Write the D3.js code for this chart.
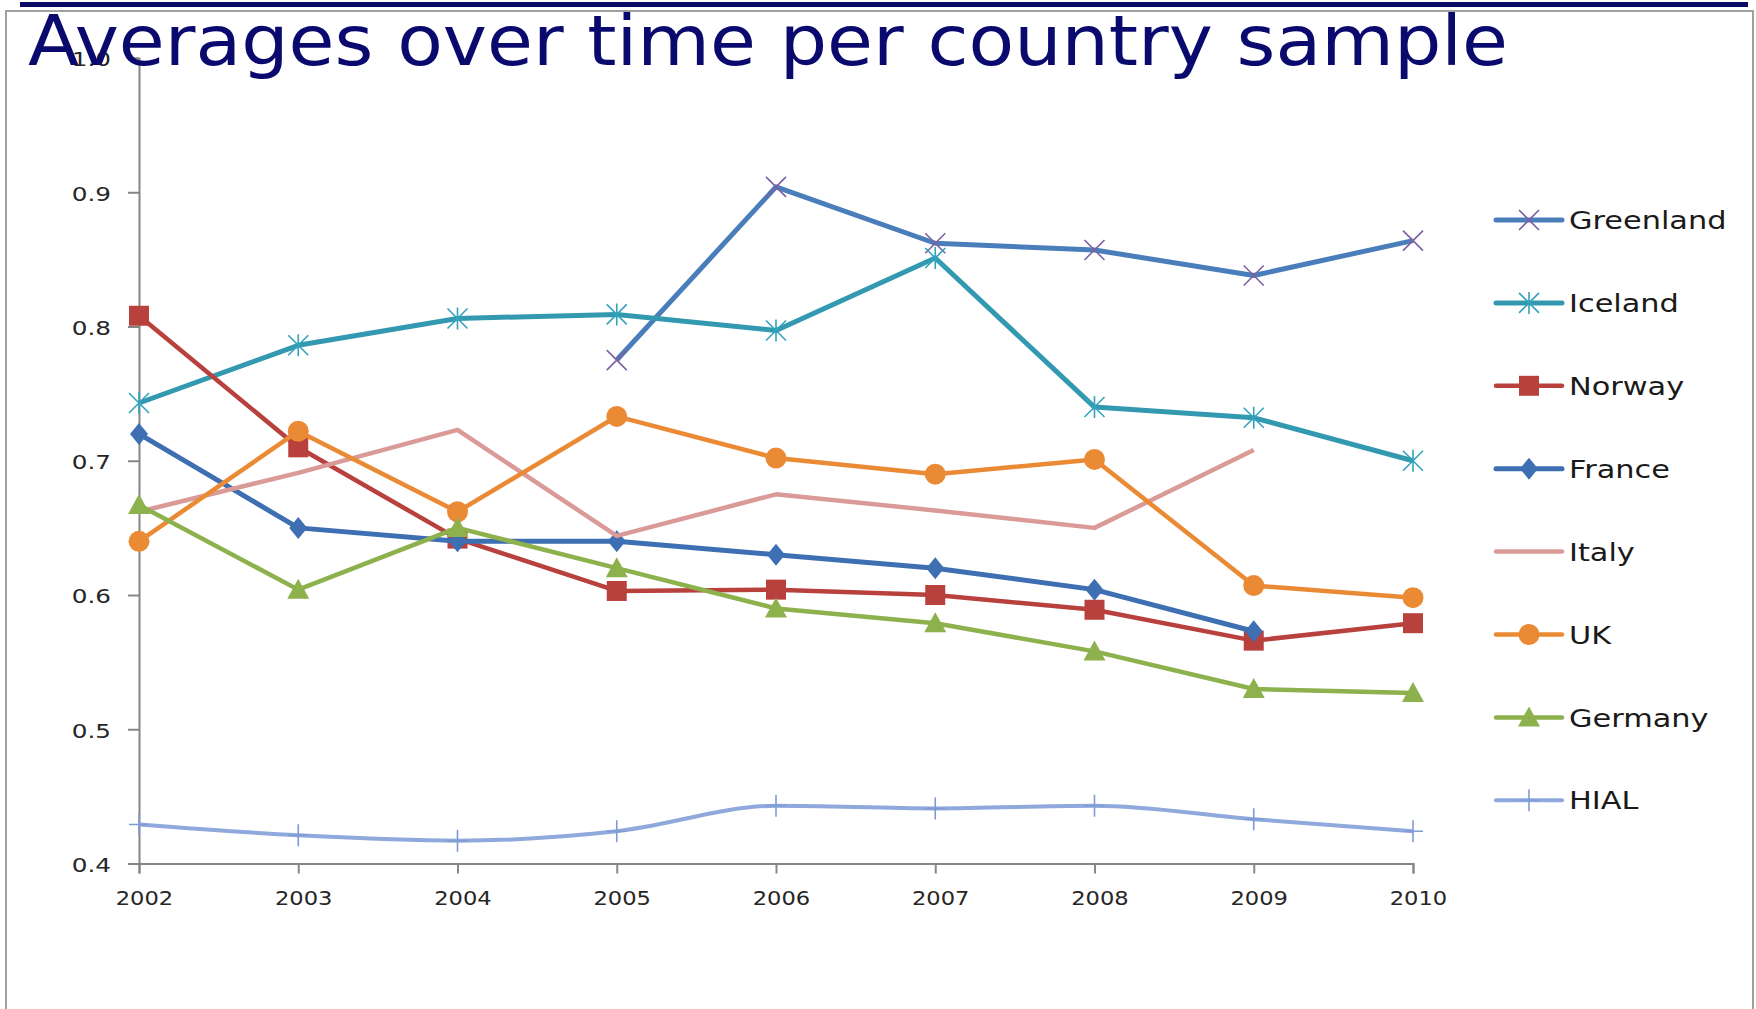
<!DOCTYPE html>
<html>
<head>
<meta charset="utf-8">
<script src="https://cdn.jsdelivr.net/npm/d3@7"></script>
<style>
  html, body { margin: 0; padding: 0; background: #ffffff; }
  svg { display: block; }
</style>
</head>
<body>
<svg id="chart" width="1756" height="1009"></svg>
<script>
// ---------- data ----------
const years = [2002, 2003, 2004, 2005, 2006, 2007, 2008, 2009, 2010];
const yTicks = [0.4, 0.5, 0.6, 0.7, 0.8, 0.9, 1.0];
const yTickLabels = ["0.4", "0.5", "0.6", "0.7", "0.8", "0.9", "1.0"];
const seriesNames = ["Greenland", "Iceland", "Norway", "France", "Italy", "UK", "Germany", "HIAL"];

const greenland = [null, null, null, 0.775, 0.904, 0.862, 0.857, 0.838, 0.864];
const iceland   = [0.743, 0.786, 0.806, 0.809, 0.797, 0.851, 0.740, 0.732, 0.700];
const norway    = [0.808, 0.710, 0.642, 0.603, 0.604, 0.600, 0.589, 0.566, 0.579];
const france    = [0.720, 0.650, 0.640, 0.640, 0.630, 0.620, 0.604, 0.573, null];
const italy     = [0.662, 0.691, 0.723, 0.644, 0.675, 0.663, 0.650, 0.708, null];
const uk        = [0.640, 0.722, 0.662, 0.733, 0.702, 0.690, 0.701, 0.607, 0.598];
const germany   = [0.667, 0.604, 0.650, 0.620, 0.590, 0.579, 0.558, 0.530, 0.527];
const hial      = [0.429, 0.421, 0.417, 0.424, 0.443, 0.441, 0.443, 0.433, 0.424];

const titleText = "Averages over time per country sample";

// ---------- styles ----------
const styles = {
  Greenland: { line: "#4a7ebb", marker: "x",        mColor: "#7e5fa2", smooth: false, width: 5 },
  Iceland:   { line: "#3399b0", marker: "asterisk", mColor: "#33a3bd", smooth: false, width: 5 },
  Norway:    { line: "#b8413e", marker: "square",   mColor: "#b8413e", smooth: false, width: 4.5 },
  France:    { line: "#3d6fb2", marker: "diamond",  mColor: "#3d6fb2", smooth: false, width: 5 },
  Italy:     { line: "#d99a98", marker: "none",     mColor: "#d99a98", smooth: false, width: 4.5 },
  UK:        { line: "#eb8a35", marker: "circle",   mColor: "#eb8a35", smooth: false, width: 4.5 },
  Germany:   { line: "#8db14c", marker: "triangle", mColor: "#8db14c", smooth: false, width: 4.5 },
  HIAL:      { line: "#8fa9dc", marker: "plus",     mColor: "#7f9bd6", smooth: true,  width: 4 }
};
const dataByName = { Greenland: greenland, Iceland: iceland, Norway: norway, France: france,
                     Italy: italy, UK: uk, Germany: germany, HIAL: hial };

const svg = d3.select("#chart");
const FONT = "DejaVu Sans, Verdana, sans-serif";

// stretch text horizontally by a factor
function stretch(sel, factor) {
  sel.each(function () {
    const w = this.getComputedTextLength();
    d3.select(this).attr("textLength", w * factor).attr("lengthAdjust", "spacingAndGlyphs");
  });
}

// ---------- frame ----------
svg.append("rect").attr("x", 6).attr("y", 11).attr("width", 1747).attr("height", 1010)
  .attr("fill", "none").attr("stroke", "#a0a0a0").attr("stroke-width", 2);
svg.append("rect").attr("x", 20).attr("y", 2).attr("width", 1728).attr("height", 5)
  .attr("fill", "#0a0a66");

// ---------- scales ----------
const x = d3.scaleLinear().domain([2002, 2010]).range([139, 1413]);
const y = d3.scaleLinear().domain([0.4, 1.0]).range([863.5, 58]);

// ---------- axes ----------
const axisColor = "#868686";
const yAxis = d3.axisLeft(y).tickValues(yTicks).tickSize(11).tickFormat(() => "");
const gy = svg.append("g").attr("transform", "translate(139,0)").call(yAxis);
gy.select(".domain").attr("stroke", axisColor).attr("stroke-width", 2);
gy.selectAll(".tick line").attr("stroke", axisColor).attr("stroke-width", 2);

const xAxis = d3.axisBottom(x).tickValues(years).tickSize(10).tickFormat(() => "");
const gx = svg.append("g").attr("transform", "translate(0,863.5)").call(xAxis);
gx.select(".domain").attr("stroke", axisColor).attr("stroke-width", 2);
gx.selectAll(".tick line").attr("stroke", axisColor).attr("stroke-width", 2);

// tick labels
const yl = svg.append("g").selectAll("text").data(yTicks).join("text")
  .attr("x", 111).attr("y", d => y(d) + 1.5).attr("dy", "0.36em")
  .attr("text-anchor", "end")
  .attr("font-family", FONT).attr("font-size", 19)
  .attr("fill", "#262626")
  .text((d, i) => yTickLabels[i]);
stretch(yl, 1.3);

const xl = svg.append("g").selectAll("text").data(years).join("text")
  .attr("x", d => x(d) + 5.5).attr("y", 898).attr("dy", "0.36em")
  .attr("text-anchor", "middle")
  .attr("font-family", FONT).attr("font-size", 20)
  .attr("fill", "#262626")
  .text(d => String(d));
stretch(xl, 1.13);

// ---------- markers ----------
function drawMarker(g, type, cx, cy, color) {
  const s = 10;
  if (type === "square") {
    g.append("path").attr("d", d3.symbol(d3.symbolSquare, 400)())
      .attr("transform", `translate(${cx},${cy})`).attr("fill", color);
  } else if (type === "diamond") {
    g.append("path").attr("d", `M0,-11L9,0L0,11L-9,0Z`)
      .attr("transform", `translate(${cx},${cy})`).attr("fill", color);
  } else if (type === "circle") {
    g.append("circle").attr("cx", cx).attr("cy", cy).attr("r", 10.5).attr("fill", color);
  } else if (type === "triangle") {
    g.append("path").attr("d", `M0,-11L11,9L-11,9Z`)
      .attr("transform", `translate(${cx},${cy})`).attr("fill", color);
  } else if (type === "x") {
    g.append("path").attr("d", `M${-s},${-s}L${s},${s}M${-s},${s}L${s},${-s}`)
      .attr("transform", `translate(${cx},${cy})`).attr("stroke", color).attr("stroke-width", 1.6).attr("fill", "none");
  } else if (type === "asterisk") {
    g.append("path").attr("d", `M${-s},${-s}L${s},${s}M${-s},${s}L${s},${-s}M0,${-s - 1}L0,${s + 1}`)
      .attr("transform", `translate(${cx},${cy})`).attr("stroke", color).attr("stroke-width", 1.6).attr("fill", "none");
  } else if (type === "plus") {
    g.append("path").attr("d", `M0,${-s - 1}L0,${s + 1}M${-s},0L${s},0`)
      .attr("transform", `translate(${cx},${cy})`).attr("stroke", color).attr("stroke-width", 1.6).attr("fill", "none");
  }
}

// ---------- lines ----------
const plot = svg.append("g");
seriesNames.forEach(name => {
  const st = styles[name];
  const vals = dataByName[name];
  const pts = years.map((yr, i) => ({ yr, v: vals[i] })).filter(p => p.v !== null);
  const line = d3.line().x(p => x(p.yr)).y(p => y(p.v))
    .curve(st.smooth ? d3.curveMonotoneX : d3.curveLinear);
  const g = plot.append("g");
  g.append("path").datum(pts).attr("d", line)
    .attr("fill", "none").attr("stroke", st.line).attr("stroke-width", st.width)
    .attr("stroke-linejoin", "round").attr("stroke-linecap", "butt");
  pts.forEach(p => drawMarker(g, st.marker, x(p.yr), y(p.v), st.mColor));
});

// ---------- legend ----------
const legend = svg.append("g");
seriesNames.forEach((name, i) => {
  const st = styles[name];
  const ly = 220 + i * 82.9;
  const g = legend.append("g");
  g.append("line").attr("x1", 1496).attr("x2", 1562).attr("y1", ly).attr("y2", ly)
    .attr("stroke", st.line).attr("stroke-width", st.width).attr("stroke-linecap", "round");
  drawMarker(g, st.marker, 1529, ly, st.mColor);
  const t = g.append("text").attr("x", 1569).attr("y", ly).attr("dy", "0.36em")
    .attr("font-family", FONT).attr("font-size", 25.5)
    .attr("fill", "#1a1a1a").text(name);
  stretch(t, 1.19);
});

// ---------- title ----------
svg.append("text").attr("x", 28).attr("y", 65)
  .attr("font-family", FONT).attr("font-size", 70)
  .attr("fill", "#0a0a6e").attr("textLength", 1480).attr("lengthAdjust", "spacingAndGlyphs")
  .text(titleText);
</script>
</body>
</html>
